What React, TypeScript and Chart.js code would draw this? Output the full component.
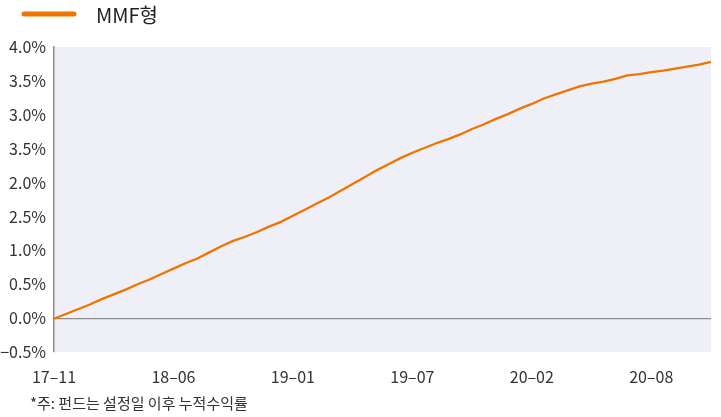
import React, { useEffect, useRef } from "react";
import { Chart, registerables } from "chart.js";

Chart.register(...registerables);

const seriesLabel = "MMF형";
const footnote = "*주: 펀드는 설정일 이후 누적수익률";
const xTickLabels = ["17–11", "18–06", "19–01", "19–07", "20–02", "20–08"];
const pointsPerTick = 10;
const yTickLabels = ["−0.5%", "0.0%", "0.5%", "1.0%", "2.5%", "2.0%", "3.5%", "3.0%", "3.5%", "4.0%"];
const mmfValues = [
  -0.01, 0.06, 0.13, 0.2, 0.28, 0.35, 0.42, 0.5, 0.57, 0.65,
  0.73, 0.81, 0.88, 0.97, 1.06, 1.14, 1.2, 1.27, 1.35, 1.42,
  1.51, 1.6, 1.69, 1.78, 1.88, 1.98, 2.08, 2.18, 2.27, 2.36,
  2.44, 2.51, 2.58, 2.64, 2.71, 2.79, 2.86, 2.94, 3.01, 3.09,
  3.16, 3.24, 3.3, 3.36, 3.42, 3.46, 3.49, 3.53, 3.58, 3.6,
  3.63, 3.65, 3.68, 3.71, 3.74, 3.78,
];

const FONT = "'Noto Sans CJK KR', 'Noto Sans', sans-serif";
const LINE_COLOR = "#f07400";

export default function App() {
  const ref = useRef<HTMLCanvasElement | null>(null);

  useEffect(() => {
    if (!ref.current) return;
    const labels = mmfValues.map((_, i) =>
      i % pointsPerTick === 0 && xTickLabels[i / pointsPerTick] ? xTickLabels[i / pointsPerTick] : ""
    );

    const decor = {
      id: "decor",
      beforeDraw(chart: any) {
        const { ctx, chartArea } = chart;
        ctx.save();
        ctx.fillStyle = "#efeff8";
        ctx.fillRect(chartArea.left, chartArea.top, chartArea.right - chartArea.left, chartArea.bottom - chartArea.top);
        ctx.restore();
      },
      afterDraw(chart: any) {
        const { ctx } = chart;
        ctx.save();
        ctx.strokeStyle = LINE_COLOR;
        ctx.lineWidth = 5;
        ctx.lineCap = "round";
        ctx.beginPath();
        ctx.moveTo(24, 14);
        ctx.lineTo(74, 14);
        ctx.stroke();
        ctx.fillStyle = "#222";
        ctx.font = `20px ${FONT}`;
        ctx.textBaseline = "middle";
        ctx.fillText(chart.data.datasets[0].label, 96, 15);
        ctx.fillStyle = "#333";
        ctx.font = `15px ${FONT}`;
        ctx.fillText(footnote, 30, 403);
        ctx.restore();
      },
    };

    const chart = new Chart(ref.current, {
      type: "line",
      data: {
        labels,
        datasets: [
          {
            label: seriesLabel,
            data: mmfValues,
            borderColor: LINE_COLOR,
            borderWidth: 2.3,
            pointRadius: 0,
            tension: 0,
          },
        ],
      },
      options: {
        animation: false,
        responsive: true,
        maintainAspectRatio: false,
        layout: { padding: { left: 0, right: 10, top: 47, bottom: 30 } },
        plugins: { legend: { display: false }, tooltip: { enabled: false } },
        scales: {
          x: {
            grid: { display: false },
            border: { display: false },
            ticks: {
              autoSkip: false,
              maxRotation: 0,
              padding: 7,
              color: "#333",
              font: { family: FONT, size: 16 },
            },
            afterFit: (s: any) => {
              s.height = 35;
            },
          },
          y: {
            min: -0.5,
            max: 4.0,
            ticks: {
              stepSize: 0.5,
              padding: 8,
              color: "#333",
              font: { family: FONT, size: 16 },
              callback: (v: any) => yTickLabels[Math.round((Number(v) + 0.5) / 0.5)] ?? "",
            },
            grid: {
              drawTicks: false,
              color: (c: any) => (c.tick && c.tick.value === 0 ? "#8c8c8c" : "rgba(0,0,0,0)"),
              lineWidth: 1.2,
            },
            border: { display: true, color: "#8c8c8c", width: 1.5 },
            afterFit: (s: any) => {
              s.width = 54;
            },
          },
        },
      },
      plugins: [decor],
    });
    return () => chart.destroy();
  }, []);

  return (
    <div style={{ position: "fixed", left: 0, top: 0, width: 721, height: 417 }}>
      <canvas ref={ref} />
    </div>
  );
}
